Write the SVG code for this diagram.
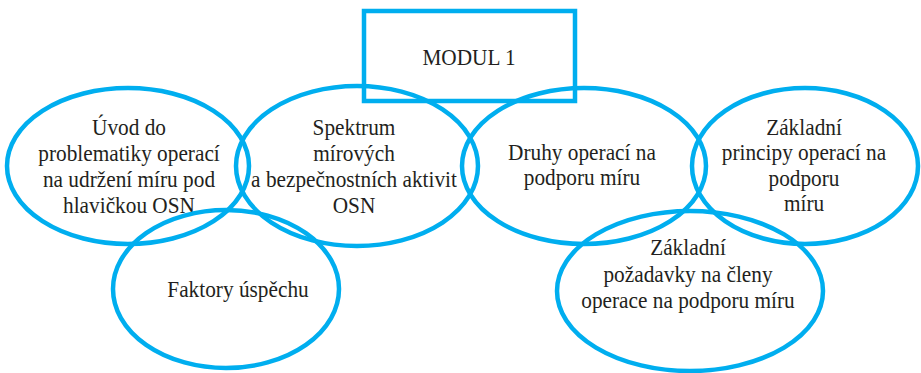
<svg xmlns="http://www.w3.org/2000/svg" width="921" height="373" viewBox="0 0 921 373">
<style>
.s{fill:none;stroke:#00aeef;stroke-width:4.5}
.t{font-family:"Liberation Serif","Times New Roman",serif;font-size:21.3px;fill:#231f20;text-anchor:middle}
</style>
<rect width="921" height="373" fill="#fff"/>
<g id="modul">
<rect class="s" x="364" y="11" width="211" height="90"/>
<text class="t" transform="translate(469,65) scale(1,1.12)">MODUL 1</text>
</g>
<g id="uvod">
<ellipse class="s" cx="128" cy="166" rx="121" ry="78"/>
<text class="t" transform="translate(129,135) scale(1,1.12)">Úvod do</text>
<text class="t" transform="translate(129,161) scale(1,1.12)">problematiky operací</text>
<text class="t" transform="translate(129,187) scale(1,1.12)">na udržení míru pod</text>
<text class="t" transform="translate(129,213) scale(1,1.12)">hlavičkou OSN</text>
</g>
<g id="spektrum">
<ellipse class="s" cx="357" cy="166" rx="121" ry="80"/>
<text class="t" transform="translate(354,135) scale(1,1.12)">Spektrum</text>
<text class="t" transform="translate(354,161) scale(1,1.12)">mírových</text>
<text class="t" transform="translate(354,187) scale(1,1.12)">a bezpečnostních aktivit</text>
<text class="t" transform="translate(354,213) scale(1,1.12)">OSN</text>
</g>
<g id="druhy">
<ellipse class="s" cx="584" cy="166" rx="122" ry="78"/>
<text class="t" transform="translate(582,160) scale(1,1.12)">Druhy operací na</text>
<text class="t" transform="translate(582,185) scale(1,1.12)">podporu míru</text>
</g>
<g id="principy">
<ellipse class="s" cx="805" cy="166" rx="113" ry="78"/>
<text class="t" transform="translate(804,135) scale(1,1.12)">Základní</text>
<text class="t" transform="translate(804,160) scale(1,1.12)">principy operací na</text>
<text class="t" transform="translate(804,186) scale(1,1.12)">podporu</text>
<text class="t" transform="translate(804,211) scale(1,1.12)">míru</text>
</g>
<g id="faktory">
<ellipse class="s" cx="226" cy="289" rx="113" ry="79"/>
<text class="t" transform="translate(238,297) scale(1,1.12)">Faktory úspěchu</text>
</g>
<g id="pozadavky">
<ellipse class="s" cx="690" cy="291" rx="133" ry="80"/>
<text class="t" transform="translate(688,255) scale(1,1.12)">Základní</text>
<text class="t" transform="translate(688,282) scale(1,1.12)">požadavky na členy</text>
<text class="t" transform="translate(688,308) scale(1,1.12)">operace na podporu míru</text>
</g>
<g id="connectors"/>
</svg>
